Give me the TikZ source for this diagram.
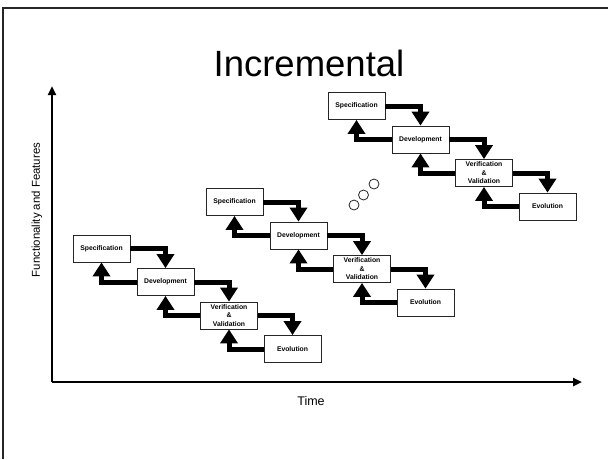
\documentclass[tikz,border=0pt]{standalone}
\usepackage{fontspec}
\setmainfont{Liberation Sans}
\usetikzlibrary{arrows.meta}
\begin{document}
\begin{tikzpicture}[x=1pt,y=-1pt,
  phase/.style={draw=black!85,line width=0.8pt,fill=white,minimum width=57pt,minimum height=27pt,
    inner sep=0pt,align=center,font=\fontsize{6.8}{8.5}\selectfont\bfseries},
  flow/.style={line width=5pt,-{Triangle[width=17pt,length=14pt]}},
  axis/.style={line width=2.6pt,-{Triangle[width=8pt,length=9pt]}},
  dot/.style={circle,draw=black!85,line width=0.8pt,minimum size=10pt,inner sep=0pt}]
\useasboundingbox (0,0) rectangle (608,459);
% slide frame (partly visible)
\draw[line width=1.8pt,black!85] (3,459) -- (3,8) -- (608,8);
% title
\node (title) at (309,63) {\fontsize{36.5}{40}\selectfont Incremental};
% axes
\coordinate (o) at (52,382);
\coordinate (ytip) at (52,86);
\coordinate (xtip) at (582,382);
\draw[axis] (o) -- (ytip);
\draw[axis] (o) -- (xtip);
\node (tlab) at (311,401) {\fontsize{12.5}{14}\selectfont Time};
\node[rotate=90] (ylab) at (37,210) {\fontsize{11.4}{13}\selectfont Functionality and Features};
% increments
\foreach \i/\x/\y in {1/101.5/248.5, 2/234.5/202, 3/356.5/106}{
  \node[phase] (s\i) at (\x,\y) {Specification};
  \node[phase] (d\i) at (\x+64,\y+33.5) {Development};
  \node[phase] (v\i) at (\x+127.5,\y+67) {Verification\\\&\\Validation};
  \node[phase] (e\i) at (\x+191,\y+100.5) {Evolution};
  \draw[flow] (s\i.east) -| (d\i.north);
  \draw[flow] (d\i.east) -| (v\i.north);
  \draw[flow] (v\i.east) -| (e\i.north);
  \draw[flow] (d\i.west) -| (s\i.south);
  \draw[flow] (v\i.west) -| (d\i.south);
  \draw[flow] (e\i.west) -| (v\i.south);
}
% ellipsis circles
\node[dot] (c1) at (354,205) {};
\node[dot] (c2) at (363.5,195) {};
\node[dot] (c3) at (374,184) {};
\end{tikzpicture}
\end{document}
